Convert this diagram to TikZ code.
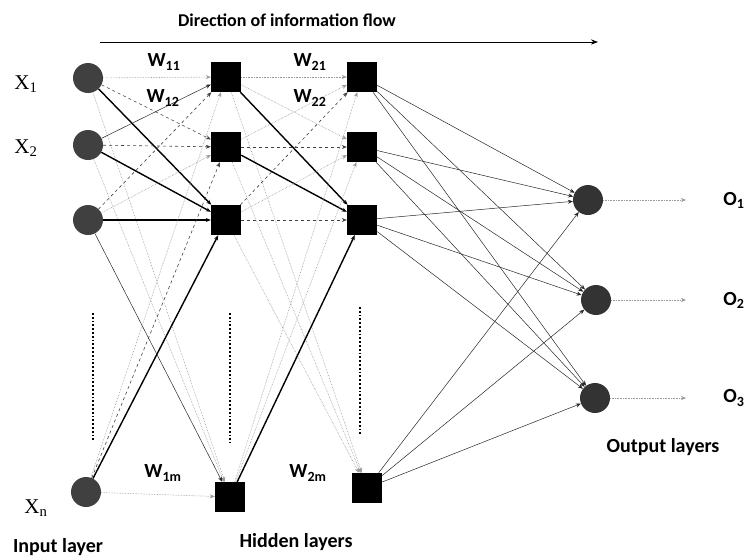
\documentclass[tikz,border=0pt]{standalone}
\usepackage{fontspec}
\setmainfont{Carlito}
\newfontfamily\serifx{Liberation Serif}
\usetikzlibrary{arrows.meta}

\tikzset{
	inp/.style={circle, fill=black!75, minimum size=30pt, inner sep=0pt},
	hid/.style={rectangle, fill=black, minimum size=30pt, inner sep=0pt},
	outp/.style={circle, fill=black!80, minimum size=30pt, inner sep=0pt},
	link/.style={-{Stealth[length=5pt,width=4pt]}},
	wthick/.style={line width=1.4pt, black},
	wthin/.style={line width=0.5pt, black!85},
	wdash/.style={line width=0.6pt, black!75, dashed},
	wgray/.style={line width=0.6pt, black!40, densely dotted},
	lbl/.style={font=\bfseries\fontsize{20}{22}\selectfont},
	xlbl/.style={font=\serifx\fontsize{21}{23}\selectfont},
	layer/.style={font=\bfseries\fontsize{20}{22}\selectfont},
}

\begin{document}
\begin{tikzpicture}[x=1pt, y=-1pt]
		\useasboundingbox (0,0) rectangle (746,558);

		% Input layer
		\node[inp] (in1) at (88,78) {};
		\node[inp] (in2) at (88,145) {};
		\node[inp] (in3) at (88,220) {};
		\node[inp] (inn) at (86,492) {};

		% Hidden layers
		\foreach \i/\y in {1/77,2/147,3/220} {
				\node[hid] (ha\i) at (226,\y) {};
				\node[hid] (hb\i) at (362,\y) {};
			}
		\node[hid] (ham) at (230,497) {};
		\node[hid] (hbm) at (367,488) {};

		% Output layer
		\node[outp] (o1) at (588,200) {};
		\node[outp] (o2) at (596,300) {};
		\node[outp] (o3) at (595,398) {};

		% Input to first hidden layer
		\foreach \a/\b/\s in {in1/ha1/wgray, in1/ha2/wdash, in1/ha3/wthick, in1/ham/wgray,
				in2/ha1/wthin, in2/ha2/wdash, in2/ha3/wthick, in2/ham/wgray,
				in3/ha1/wdash, in3/ha2/wgray, in3/ha3/wthick, in3/ham/wthin,
				inn/ha1/wgray, inn/ha2/wdash, inn/ha3/wthick, inn/ham/wgray} {
				\draw[link,\s] (\a) -- (\b);
			}

		% First to second hidden layer
		\foreach \a/\b/\s in {ha1/hb1/wgray, ha1/hb2/wgray, ha1/hb3/wthick, ha1/hbm/wgray,
				ha2/hb1/wgray, ha2/hb2/wdash, ha2/hb3/wthick, ha2/hbm/wgray,
				ha3/hb1/wdash, ha3/hb2/wgray, ha3/hb3/wdash, ha3/hbm/wgray,
				ham/hb1/wgray, ham/hb2/wgray, ham/hb3/wthick} {
				\draw[link,\s] (\a) -- (\b);
			}

		% Second hidden layer to output
		\foreach \a in {hb1,hb2,hb3,hbm} {
				\foreach \b in {o1,o2,o3} {
						\draw[link,wthin] (\a) -- (\b);
					}
			}

		% Outputs
		\foreach \i/\y in {1/200,2/300,3/398} {
				\coordinate (e\i) at (686,\y);
				\draw[link,wgray] (o\i) -- (e\i);
				\node[lbl] (ol\i) at (734,\y) {O\textsubscript{\i}};
			}

		% Dots between nodes
		\draw[line width=1.8pt, dotted] (93,313) -- (93,440);
		\draw[line width=1.8pt, dotted] (230,313) -- (230,443);
		\draw[line width=1.8pt, dotted] (360,307) -- (360,435);

		% Labels for inputs
		\node[xlbl] (x1) at (26,84) {X\textsubscript{1}};
		\node[xlbl] (x2) at (26,148) {X\textsubscript{2}};
		\node[xlbl] (xn) at (36,508) {X\textsubscript{n}};

		% Labels for weights
		\node[lbl] (w11) at (164,62) {W\textsubscript{11}};
		\node[lbl] (w12) at (163,98) {W\textsubscript{12}};
		\node[lbl] (w21) at (310,62) {W\textsubscript{21}};
		\node[lbl] (w22) at (310,98) {W\textsubscript{22}};
		\node[lbl] (w1m) at (163,473) {W\textsubscript{1m}};
		\node[lbl] (w2m) at (308,473) {W\textsubscript{2m}};

		% Direction of flow
		\node[lbl, font=\bfseries\fontsize{18}{20}\selectfont] (dir) at (287,20) {Direction of information flow};
		\coordinate (dl) at (100,42);
		\coordinate (dr) at (598,42);
		\draw[-{Stealth[length=7pt]}, line width=1pt] (dl) -- (dr);

		% Layer names
		\node[layer] (li) at (58,547) {Input layer};
		\node[layer] (lh) at (296,542) {Hidden layers};
		\node[layer] (lo) at (663,447) {Output layers};
	\end{tikzpicture}
\end{document}
